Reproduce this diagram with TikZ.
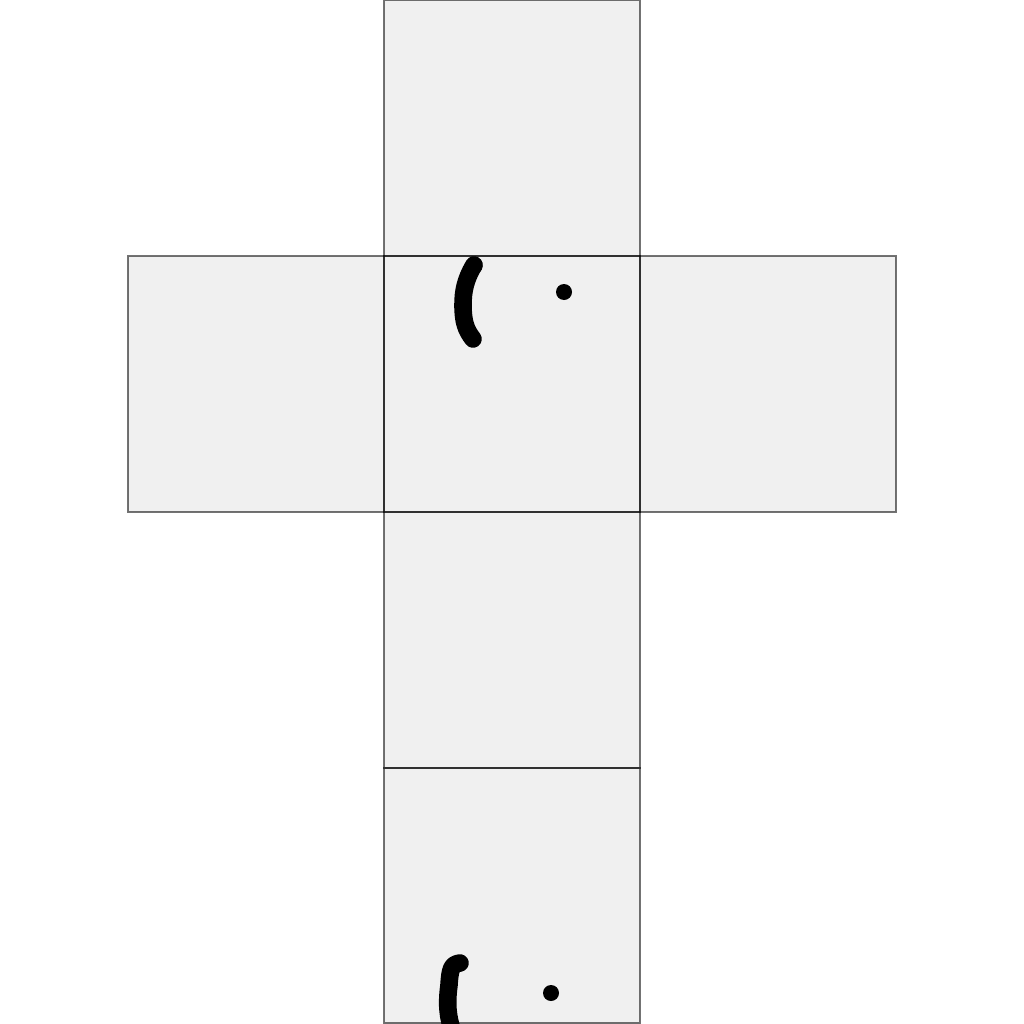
\documentclass[tikz,border=0pt]{standalone}
\begin{document}
\begin{tikzpicture}[x=0.01cm,y=-0.01cm,
  face/.style={fill={rgb,255:red,240;green,240;blue,240}},
  edge/.style={draw=black,draw opacity=0.55,line width=0.6pt},
  stroke/.style={line width=5pt,line cap=round,line join=round},
  dotmark/.style={fill=black}]
\useasboundingbox (0,0) rectangle (1024,1024);
\clip (0,0) rectangle (1024,1024);
% fills
\fill[face] (384,0) rectangle (640,256);
\fill[face] (128,256) rectangle (384,512);
\fill[face] (384,256) rectangle (640,512);
\fill[face] (640,256) rectangle (896,512);
\fill[face] (384,512) rectangle (640,768);
\fill[face] (384,768) rectangle (640,1024);
% edges (translucent, overlaps darker)
\draw[edge] (384,0) rectangle (640,256);
\draw[edge] (128,256) rectangle (384,512);
\draw[edge] (384,256) rectangle (640,512);
\draw[edge] (640,256) rectangle (896,512);
\draw[edge] (384,512) rectangle (640,768);
\draw[edge] (384,768) rectangle (640,1023.5);
% marks
\draw[stroke] (474,265) .. controls (465,280) and (463,292) .. (463,305)
  .. controls (463,322) and (466,330) .. (473,339);
\fill[dotmark] (474,266) circle (8.5);
\fill[dotmark] (564,292) circle (8);
\draw[stroke] (460,963) .. controls (451,964) and (450,970) .. (449,985)
  .. controls (447,1000) and (447,1012) .. (451,1026);
\fill[dotmark] (457,964) circle (8);
\fill[dotmark] (551,993) circle (8);
\end{tikzpicture}
\end{document}
